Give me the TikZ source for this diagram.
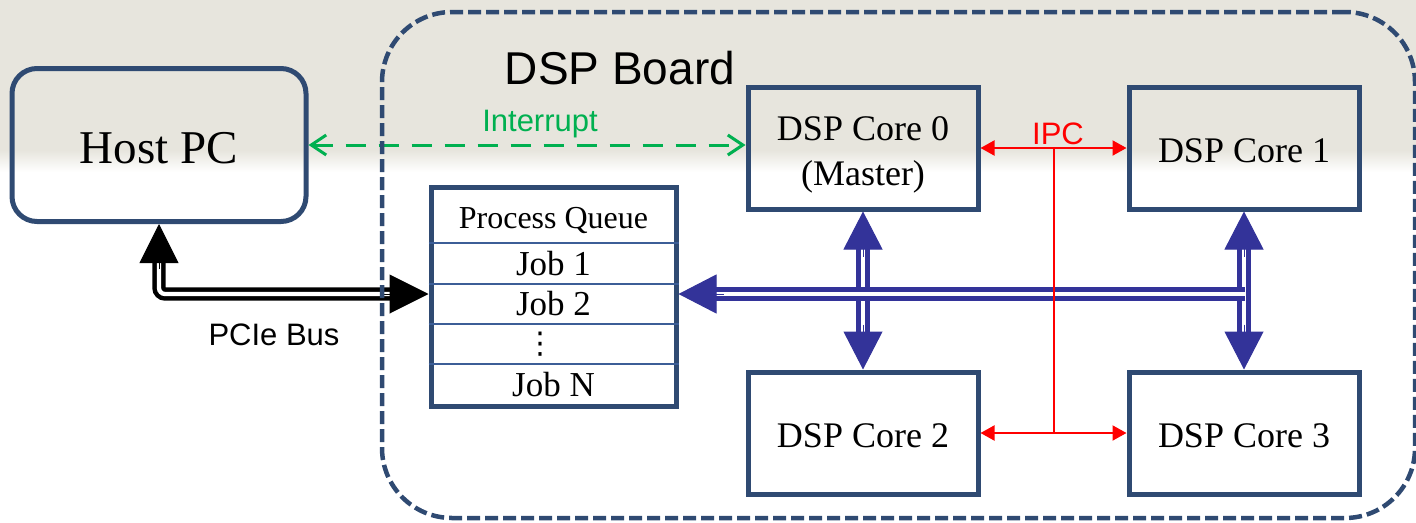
\documentclass[tikz,border=0pt]{standalone}
\usepackage{fontspec}
\setmainfont{Liberation Serif}
\setsansfont{Liberation Sans}
\newfontfamily\dejavusym{DejaVu Sans}
\usetikzlibrary{arrows.meta,calc}

\definecolor{frameblue}{RGB}{47,74,114}
\definecolor{rowblue}{RGB}{60,94,151}
\definecolor{busblue}{RGB}{51,51,153}
\definecolor{ipcred}{RGB}{255,0,0}
\definecolor{intgreen}{RGB}{0,176,80}
\definecolor{bgbeige}{RGB}{231,229,221}

\newcommand{\lowertext}[2]{\raisebox{-#1}[\height][\depth]{#2}}

\begin{document}
\begin{tikzpicture}[x=1pt,y=-1pt,
  corebox/.style={draw=frameblue, line width=5pt, minimum width=230pt, minimum height=122pt,
    inner sep=0pt, align=center, font=\fontsize{36}{45}\selectfont},
  hostbox/.style={draw=frameblue, line width=5pt, rounded corners=25pt, minimum width=294pt,
    minimum height=153pt, inner sep=0pt, font=\fontsize{47}{50}\selectfont},
  queuebox/.style={draw=frameblue, line width=5pt, minimum width=245pt, minimum height=219pt, inner sep=0pt},
  boardbox/.style={draw=frameblue, line width=4.5pt, rounded corners=70pt, dash pattern=on 13pt off 5pt,
    minimum width=1033pt, minimum height=506pt, inner sep=0pt},
  rowline/.style={draw=rowblue, line width=2pt},
  qtext/.style={inner sep=0pt, font=\fontsize{35}{40}\selectfont},
  qhead/.style={inner sep=0pt, font=\fontsize{32}{36}\selectfont},
  sanslabel/.style={inner sep=0pt, font=\sffamily\fontsize{31}{35}\selectfont},
  busline/.style={draw=busblue, line width=4.5pt, double=white, double distance=4.3pt},
  bustip/.style={draw=busblue, line width=1pt, -{Triangle[length=38pt, width=39pt]}},
  pcieline/.style={draw=black, line width=4.5pt, double=white, double distance=4.3pt},
  pcietip/.style={draw=black, line width=1pt, -{Triangle[length=39pt, width=39pt]}},
  ipc/.style={draw=ipcred, line width=2pt, {Triangle[length=14pt, width=15pt]}-{Triangle[length=14pt, width=15pt]}},
  ipcline/.style={draw=ipcred, line width=2pt},
  intr/.style={draw=intgreen, line width=3pt, dash pattern=on 20pt off 13pt,
    {Straight Barb[length=15pt, width=20pt]}-{Straight Barb[length=15pt, width=20pt]}}
]
\useasboundingbox (0,0) rectangle (1416,522);

% background texture approximation
\fill[bgbeige] (0,0) rectangle (1416,150);
\shade[top color=bgbeige, bottom color=white] (0,150) rectangle (1416,172);

% nodes
\node[hostbox] (host) at (159,145) {\lowertext{3pt}{Host PC}};
\node[queuebox] (q) at (553.5,296.5) {};
\node[corebox] (c0) at (863,148) {\lowertext{6pt}{\begin{tabular}{@{}c@{}}DSP Core 0\\(Master)\end{tabular}}};
\node[corebox] (c1) at (1244,148) {\lowertext{3pt}{DSP Core 1}};
\node[corebox] (c2) at (863,433) {\lowertext{3pt}{DSP Core 2}};
\node[corebox] (c3) at (1244,433) {\lowertext{3pt}{DSP Core 3}};

% queue rows
\foreach \yy in {243,284,324,364}
  \draw[rowline] (q.west |- 0,\yy) -- (q.east |- 0,\yy);
\node[qhead] (pq) at (553.5,220) {Process Queue};
\node[qtext] (j1) at (553.5,264) {Job 1};
\node[qtext] (j2) at (553.5,304) {Job 2};
\node[inner sep=0pt, font=\dejavusym\fontsize{30}{34}\selectfont] (jd) at (540,344) {⋮};
\node[qtext] (jn) at (553.5,385) {Job N};

% blue bus
\coordinate (busR) at (1245,294);
\draw[busline] ($(c0.south)+(0,34)$) -- ($(c2.north)+(0,-34)$);
\draw[busline] ($(c1.south)+(0,34)$) -- ($(c3.north)+(0,-34)$);
\draw[busline] (busR) -- ($(q.east |- busR)+(34,0)$);
\draw[bustip] ($(c0.south)+(0,45)$) -- (c0.south);
\draw[bustip] ($(c2.north)+(0,-45)$) -- (c2.north);
\draw[bustip] ($(c1.south)+(0,45)$) -- (c1.south);
\draw[bustip] ($(c3.north)+(0,-45)$) -- (c3.north);
\draw[bustip] ($(q.east |- busR)+(45,0)$) -- (q.east |- busR);

% PCIe bus
\coordinate (pcieQ) at (q.west |- 0,294);
\draw[pcieline, rounded corners=6pt] ($(host.south)+(0,34)$) |- ($(pcieQ)+(-34,0)$);
\draw[pcietip] ($(host.south)+(0,45)$) -- (host.south);
\draw[pcietip] ($(pcieQ)+(-45,0)$) -- (pcieQ);
\node[sanslabel] (pcielbl) at (274,335) {PCIe Bus};

% IPC
\coordinate (ipcT) at ($(c0.east)!0.5!(c1.west)$);
\coordinate (ipcB) at ($(c2.east)!0.5!(c3.west)$);
\draw[ipcline] (ipcT) -- (ipcB);
\draw[ipc] (c0.east) -- (c1.west);
\draw[ipc] (c2.east) -- (c3.west);
\node[sanslabel, text=ipcred] (ipclbl) at (1058,134) {IPC};

% interrupt
\draw[intr] (host.east) -- (c0.west |- host.east);
\node[sanslabel, text=intgreen] (intlbl) at (540,124) {Interrupt};

% DSP board
\node[boardbox] (board) at (898.5,265) {};
\node[inner sep=0pt, font=\sffamily\fontsize{46}{50}\selectfont] (boardlbl) at (620,68) {DSP Board};
\end{tikzpicture}
\end{document}
